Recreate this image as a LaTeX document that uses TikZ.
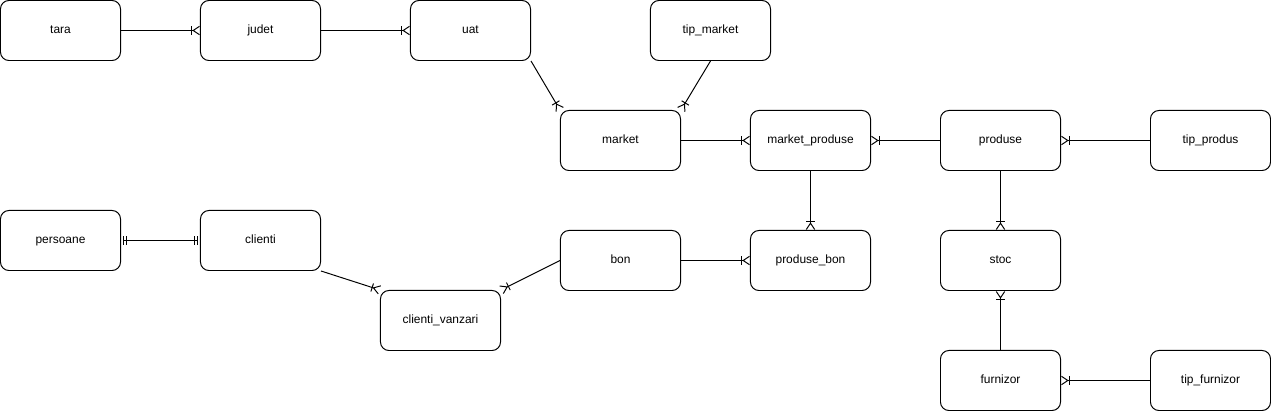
\documentclass[tikz,border=0pt]{standalone}
\usepackage{fontspec}
\setmainfont{Liberation Sans}
\usepackage{tikz}
\usetikzlibrary{arrows.meta,positioning}
\definecolor{ErInk}{HTML}{000000}
\tikzset{
  entlabel/.style={font=\fontsize{8.5}{10}\selectfont, text=ErInk},
  entbox/.style={draw=ErInk, line width=0.7pt, rounded corners=6pt, fill=white, minimum width=3cm, minimum height=1.5cm, align=center, text height=6.2pt, text depth=1.6pt},
  erline/.style={line width=0.7pt, draw=ErInk},
  tomany/.style={erline, -{Bar[width=6pt,line width=0.7pt]Straight Barb[reversed,length=4.5pt,width=6pt,line width=0.7pt]}},
  tobothone/.style={erline, {Bar[width=6pt,line width=0.7pt,sep=1.4pt]Bar[width=6pt,line width=0.7pt,sep=1.2pt]}-{Bar[width=6pt,line width=0.7pt,sep=1.2pt]Bar[width=6pt,line width=0.7pt,sep=1.4pt]}}
}
\begin{document}
\begin{tikzpicture}[x=0.025cm, y=-0.025cm, every node/.style={entlabel}]
\useasboundingbox (0,0) rectangle (1271,411);
% entities, top row
\node[entbox] (tara) at (60.5,30.5) {tara};
\node[entbox] (judet) at (260.5,30.5) {judet};
\node[entbox] (uat) at (470.5,30.5) {uat};
\node[entbox] (tipmarket) at (710.5,30.5) {tip\_market};
% middle row
\node[entbox] (market) at (620.5,140.5) {market};
\node[entbox] (marketprod) at (810.5,140.5) {market\_produse};
\node[entbox] (produse) at (1000.5,140.5) {produse};
\node[entbox] (tipprodus) at (1210.5,140.5) {tip\_produs};
% lower rows
\node[entbox] (persoane) at (60.5,240.5) {persoane};
\node[entbox] (clienti) at (260.5,240.5) {clienti};
\node[entbox] (bon) at (620.5,260.5) {bon};
\node[entbox] (produsebon) at (810.5,260.5) {produse\_bon};
\node[entbox] (stoc) at (1000.5,260.5) {stoc};
\node[entbox] (clvanzari) at (440.5,320.5) {clienti\_vanzari};
\node[entbox] (furnizor) at (1000.5,380.5) {furnizor};
\node[entbox] (tipfurnizor) at (1210.5,380.5) {tip\_furnizor};
% relations
\draw[tomany] (tara) -- (judet);
\draw[tomany] (judet) -- (uat);
\draw[tomany] (uat.south east) -- (market.north west);
\draw[tomany] (tipmarket.south) -- (market.north east);
\draw[tomany] (market) -- (marketprod);
\draw[tomany] (produse) -- (marketprod);
\draw[tomany] (tipprodus) -- (produse);
\draw[tomany] (marketprod) -- (produsebon);
\draw[tomany] (bon) -- (produsebon);
\draw[tomany] (produse) -- (stoc);
\draw[tomany] (furnizor) -- (stoc);
\draw[tomany] (tipfurnizor) -- (furnizor);
\draw[tobothone] (persoane) -- (clienti);
\draw[tomany] (clienti.south east) -- (clvanzari.north west);
\draw[tomany] (bon.west) -- (clvanzari.north east);
\end{tikzpicture}
\end{document}
